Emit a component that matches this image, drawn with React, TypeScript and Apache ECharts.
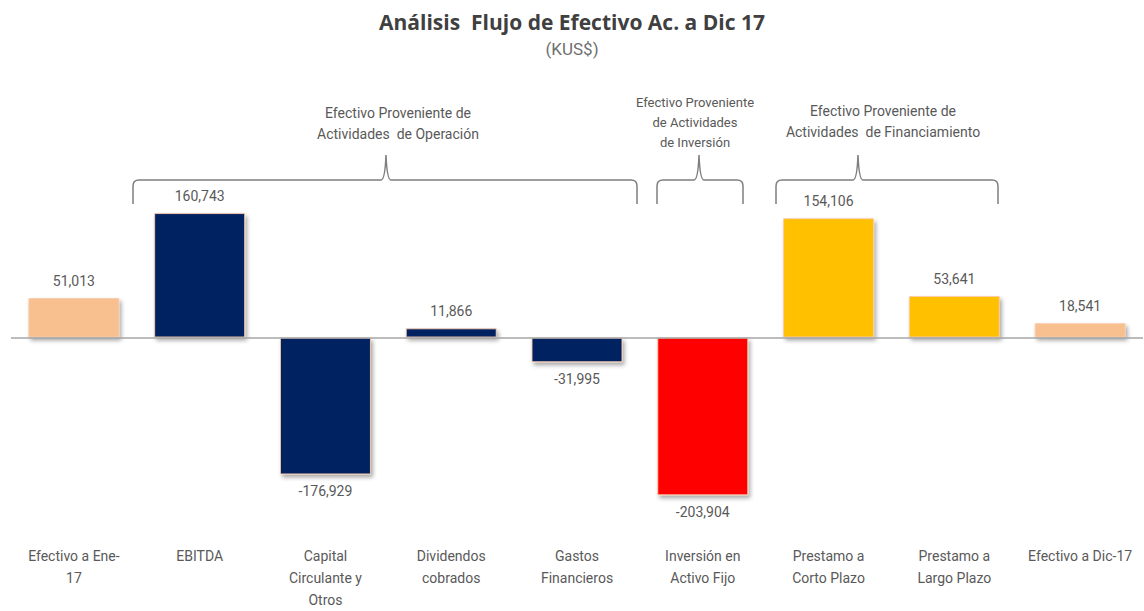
import React, { useEffect, useRef } from "react";
import * as echarts from "echarts";

const categories = [
  "Efectivo a Ene-\n17",
  "EBITDA",
  "Capital\nCirculante y\nOtros",
  "Dividendos\ncobrados",
  "Gastos\nFinancieros",
  "Inversión en\nActivo Fijo",
  "Prestamo a\nCorto Plazo",
  "Prestamo a\nLargo Plazo",
  "Efectivo a Dic-17",
];
const values = [51013, 160743, -176929, 11866, -31995, -203904, 154106, 53641, 18541];
const barColors = ["#F8C08F", "#002060", "#002060", "#002060", "#002060", "#FF0000", "#FFC000", "#FFC000", "#F8C08F"];

const groupLabels = [
  "Efectivo Proveniente de\nActividades  de Operación",
  "Efectivo Proveniente\nde Actividades\nde Inversión",
  "Efectivo Proveniente de\nActividades  de Financiamiento",
];

const FONT = "Roboto, 'Noto Sans', sans-serif";

function bracePath(x1: number, x2: number, xm: number) {
  const h = 180, yb = 204, yp = 155, r = 6;
  return [
    `M${x1} ${yb}`,
    `L${x1} ${h + r}`,
    `Q${x1} ${h} ${x1 + r} ${h}`,
    `L${xm - 5} ${h}`,
    `Q${xm - 1} ${h} ${xm} ${yp}`,
    `Q${xm + 1} ${h} ${xm + 5} ${h}`,
    `L${x2 - r} ${h}`,
    `Q${x2} ${h} ${x2} ${h + r}`,
    `L${x2} ${yb}`,
  ].join(" ");
}

let registered = false;
function registerBraces() {
  if (registered) return;
  registered = true;
  echarts.graphic.registerShape("brace1", echarts.graphic.extendPath(bracePath(133, 637, 386), {}) as any);
  echarts.graphic.registerShape("brace2", echarts.graphic.extendPath(bracePath(657, 743, 699), {}) as any);
  echarts.graphic.registerShape("brace3", echarts.graphic.extendPath(bracePath(776, 998, 858), {}) as any);
}

export default function App() {
  const ref = useRef<HTMLDivElement>(null);
  useEffect(() => {
    if (!ref.current) return;
    registerBraces();
    const chart = echarts.init(ref.current, undefined, { renderer: "svg" });
    const braceStyle = { stroke: "#7f7f7f", lineWidth: 1.5, fill: "none" };
    const textStyle = (fs: number) => ({
      fill: "#595959",
      font: `${fs}px ${FONT}`,
      textAlign: "center",
      textVerticalAlign: "top",
      lineHeight: fs === 13 ? 20 : 21,
    });
    chart.setOption({
      animation: false,
      backgroundColor: "#ffffff",
      title: {
        text: "Análisis  Flujo de Efectivo Ac. a Dic 17",
        subtext: "(KUS$)",
        left: "center",
        top: 6,
        itemGap: 8,
        textStyle: { fontFamily: "'Open Sans', Roboto, sans-serif", fontSize: 21, fontWeight: "bold", color: "#404040" },
        subtextStyle: { fontFamily: FONT, fontSize: 17, color: "#6f6f6f" },
      },
      grid: { left: 11, right: 1, top: 144, height: 394 },
      xAxis: {
        type: "category",
        data: categories,
        axisLine: { show: false, onZero: false },
        axisTick: { show: false },
        axisLabel: {
          interval: 0,
          margin: 14,
          fontFamily: FONT,
          fontSize: 14,
          lineHeight: 22,
          color: "#595959",
        },
      },
      yAxis: {
        type: "value",
        min: -250000,
        max: 250000,
        show: false,
        splitLine: { show: false },
      },
      series: [
        {
          type: "bar",
          barWidth: 91,
          data: values.map((v, i) => ({
            value: v,
            itemStyle: { color: barColors[i] },
            label: { position: v >= 0 ? "top" : "bottom" },
          })),
          itemStyle: {
            borderColor: "rgba(248,203,173,0.9)",
            borderWidth: 1,
            shadowColor: "rgba(0,0,0,0.35)",
            shadowBlur: 4,
            shadowOffsetX: 2,
            shadowOffsetY: 3,
          },
          label: {
            show: true,
            distance: 10,
            fontFamily: FONT,
            fontSize: 14,
            color: "#595959",
            formatter: (p: any) => Number(p.value).toLocaleString("en-US"),
          },
          markLine: {
            silent: true,
            symbol: "none",
            label: { show: false },
            lineStyle: { color: "#a6a6a6", width: 1.5, type: "solid" },
            data: [{ yAxis: 0 }],
          },
          z: 3,
        },
      ],
      graphic: [
        { type: "brace1", x: 0, y: 0, shape: {}, style: braceStyle, z: 10 },
        { type: "brace2", x: 0, y: 0, shape: {}, style: braceStyle, z: 10 },
        { type: "brace3", x: 0, y: 0, shape: {}, style: braceStyle, z: 10 },
        { type: "text", x: 398, y: 102, style: { text: groupLabels[0], ...textStyle(14) }, z: 10 },
        { type: "text", x: 695, y: 92, style: { text: groupLabels[1], ...textStyle(13) }, z: 10 },
        { type: "text", x: 883, y: 100, style: { text: groupLabels[2], ...textStyle(14) }, z: 10 },
      ],
    });
    return () => chart.dispose();
  }, []);
  return (
    <div
      ref={ref}
      style={{ position: "fixed", left: 0, top: 0, width: 1144, height: 611 }}
    />
  );
}
